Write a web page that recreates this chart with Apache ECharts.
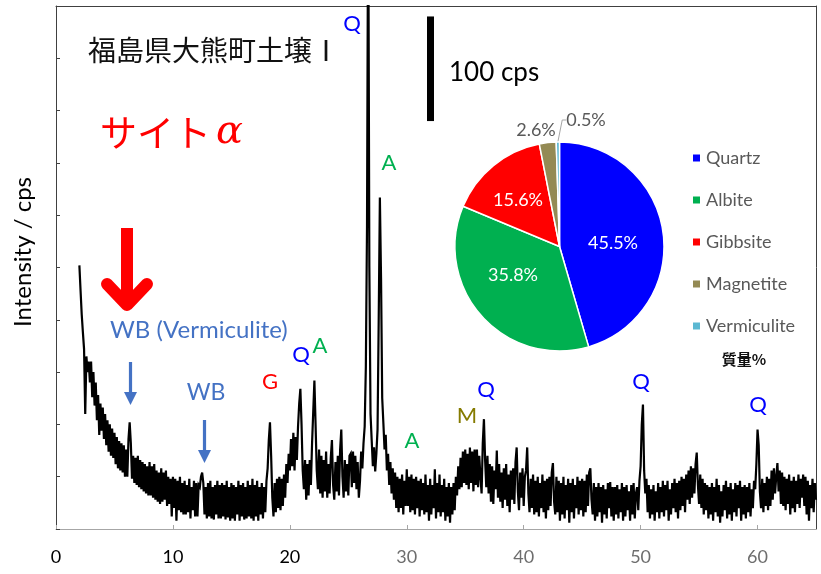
<!DOCTYPE html>
<html>
<head>
<meta charset="utf-8">
<script src="https://cdn.jsdelivr.net/npm/echarts@6/dist/echarts.min.js"></script>
<style>
  html, body { margin: 0; padding: 0; background: #fff; }
  #c { width: 821px; height: 574px; }
</style>
</head>
<body>
<div id="c"></div>
<script>
// XRD scan: 2θ from scanStart in steps of scanStep (degrees), intensity in cps
const scanStart = 2.0;
const scanStep = 0.1;
const intensity = [
  252,228,205,188,172,110,165,150,160,140,
  160,126,150,118,140,104,128,90,120,94,
  116,86,110,80,104,74,100,70,96,68,
  92,62,88,58,84,56,82,54,80,50,
  76,50,86,102,82,48,70,44,68,42,
  70,40,66,38,64,36,62,34,60,32,
  64,32,60,30,62,28,56,26,54,24,
  58,26,54,28,56,22,50,24,48,12,
  50,20,48,8,46,18,50,16,44,14,
  46,14,42,16,48,10,40,18,46,12,
  44,12,42,40,50,54,44,14,40,10,
  44,12,46,10,40,9,42,14,46,10,
  42,10,44,12,42,9,46,11,40,8,
  44,10,42,8,40,14,46,8,42,12,
  44,9,40,10,46,12,42,10,48,8,
  42,12,46,8,40,14,44,10,40,16,
  46,58,85,102,70,30,12,44,16,48,
  20,50,18,48,22,52,30,62,44,72,
  56,86,60,92,56,88,66,98,120,134,
  100,56,38,66,28,62,32,66,42,82,
  112,142,100,56,38,76,34,70,30,66,
  36,74,30,62,34,68,85,42,28,64,
  36,70,32,76,95,50,30,66,36,62,
  32,70,72,40,74,44,70,38,64,30,
  46,74,58,82,98,155,290,620,250,110,
  85,60,78,55,72,95,200,317,240,125,
  101,76,90,56,72,42,64,34,58,28,
  54,20,50,16,48,20,52,14,46,22,
  57,22,50,16,52,18,48,14,50,20,
  46,12,48,18,44,14,52,16,42,8,
  48,14,42,20,57,10,44,16,52,12,
  42,16,48,8,40,12,44,6,40,14,
  44,18,50,32,60,38,68,40,74,44,
  76,42,72,38,78,44,74,36,76,42,
  76,40,70,50,34,82,105,66,40,70,
  34,62,26,60,24,56,38,75,30,62,
  26,54,20,58,28,62,22,52,16,56,
  28,58,24,64,78,36,18,54,30,58,
  22,50,56,78,34,16,48,20,52,14,
  46,16,50,12,44,20,52,16,46,10,
  48,18,50,22,54,63,26,14,50,16,
  46,8,44,14,50,10,42,18,48,6,
  44,16,48,10,42,20,50,14,46,18,
  48,12,46,16,52,22,54,58,28,14,
  44,8,40,12,44,16,40,6,42,14,
  38,10,44,20,45,12,40,8,40,14,
  42,10,38,16,44,8,40,12,42,18,
  36,8,42,14,44,10,34,40,18,46,
  60,100,119,56,34,48,16,42,10,38,
  14,42,8,36,16,44,10,40,16,46,
  12,42,18,46,8,38,14,44,20,48,
  16,44,10,46,18,50,22,48,16,52,
  28,56,24,60,30,58,34,62,73,42,
  24,52,20,48,14,44,18,42,10,40,
  14,44,8,40,16,48,12,42,6,36,
  12,42,18,46,10,40,14,44,8,38,
  16,44,12,42,20,46,8,40,14,42,
  10,40,16,44,12,38,20,46,38,62,
  95,80,36,20,48,16,44,22,50,18,
  48,22,56,28,58,34,50,63,36,56,
  24,54,22,50,18,48,24,52,14,46,
  20,50,16,46,24,52,20,48,30,52,
  22,50,14,46,8,42,20,48,16,44,
  28
];

// Axis ranges
const xMin = 0, xMax = 65, xStep = 10;
const yMin = 0, yMax = 500, yStep = 50;

// Scale bar: 100 cps
const scaleBarCps = 100;
const scaleBarTopCps = 490;

// Mineral composition (mass %)
const phaseNames = ['Quartz', 'Albite', 'Gibbsite', 'Magnetite', 'Vermiculite'];
const phaseMass = [45.5, 35.8, 15.6, 2.6, 0.5];
const phaseColors = ['#0000ff', '#00b050', '#ff0000', '#948a54', '#5bb8d2'];

const scan = intensity.map((v, i) => [+(scanStart + i * scanStep).toFixed(2), v]);

const chart = echarts.init(document.getElementById('c'), null, { renderer: 'canvas' });

const labelFont = 'Lato, "Open Sans", sans-serif';
const frameColor = '#404040';

// Inner/outer pie label anchor points
const pieLabelPos = [
  { x: 613, y: 243 },
  { x: 513, y: 275 },
  { x: 518, y: 200 },
  { x: 536, y: 130 },
  { x: 586, y: 120 }
];

const option = {
  animation: false,
  backgroundColor: '#ffffff',
  grid: { left: 56, right: 5, top: 6, bottom: 45, containLabel: false },
  xAxis: [
    {
      type: 'value', min: xMin, max: xMax, interval: xStep,
      axisLine: { show: true, lineStyle: { color: '#a6a6a6', width: 1 } },
      axisTick: { show: true, inside: true, length: 4, lineStyle: { color: '#a6a6a6' } },
      splitLine: { show: false },
      axisLabel: {
        margin: 19, showMaxLabel: false,
        formatter: v => (v > 60 ? '' : (v >= 30 ? '{g|' + v + '}' : '{k|' + v + '}')),
        rich: {
          k: { fontFamily: labelFont, fontSize: 18, color: '#000000' },
          g: { fontFamily: labelFont, fontSize: 18, color: '#6e6e6e' }
        }
      }
    },
    {
      type: 'value', position: 'top', min: xMin, max: xMax,
      axisLine: { show: true, onZero: false, lineStyle: { color: frameColor, width: 1 } },
      axisTick: { show: false }, axisLabel: { show: false }, splitLine: { show: false }
    }
  ],
  yAxis: [
    {
      type: 'value', min: yMin, max: yMax, interval: yStep,
      axisLine: { show: true, onZero: false, lineStyle: { color: frameColor, width: 1 } },
      axisTick: { show: true, inside: true, length: 4, lineStyle: { color: frameColor } },
      axisLabel: { show: false },
      splitLine: { show: false }
    },
    {
      type: 'value', position: 'right', min: yMin, max: yMax,
      axisLine: { show: true, onZero: false, lineStyle: { color: frameColor, width: 1 } },
      axisTick: { show: false }, axisLabel: { show: false }, splitLine: { show: false }
    }
  ],
  legend: {
    orient: 'vertical', left: 686, top: 144,
    itemWidth: 9, itemHeight: 9, itemGap: 24, icon: 'rect',
    data: phaseNames,
    textStyle: { fontFamily: labelFont, fontSize: 18, color: '#595959', lineHeight: 18 }
  },
  series: [
    {
      type: 'line', name: 'XRD', data: scan, xAxisIndex: 0, yAxisIndex: 0,
      showSymbol: false, symbol: 'none', clip: true,
      lineStyle: { color: '#000000', width: 2.2, join: 'miter', miterLimit: 4 }, z: 2
    },
    {
      type: 'pie', name: '質量%', center: [559.5, 246.5], radius: [0, 104.5],
      startAngle: 90, clockwise: true, z: 5,
      itemStyle: { borderColor: '#ffffff', borderWidth: 1.5 },
      data: phaseNames.map((n, i) => ({
        name: n, value: phaseMass[i], itemStyle: { color: phaseColors[i] },
        label: i < 3
          ? { show: true, position: 'inside', color: '#ffffff' }
          : { show: true, position: 'outside', color: '#595959' },
        labelLine: { show: i === 4, length: 6, length2: 4, lineStyle: { color: '#a6a6a6', width: 1 } }
      })),
      label: {
        fontFamily: labelFont, fontSize: 18,
        formatter: p => p.value.toFixed(1) + '%'
      },
      labelLayout: p => {
        const pos = pieLabelPos[p.dataIndex];
        return { x: pos.x, y: pos.y, align: 'center', verticalAlign: 'middle' };
      },
      emphasis: { disabled: true }
    }
  ]
};

chart.setOption(option);

// Overlay annotations
const pyTop = chart.convertToPixel({ yAxisIndex: 0 }, scaleBarTopCps);
const pyBot = chart.convertToPixel({ yAxisIndex: 0 }, scaleBarTopCps - scaleBarCps);

function txt(text, x, y, size, color) {
  return {
    type: 'text', x: x, y: y, z: 20,
    style: { text: text, fill: color, font: size + 'px ' + labelFont, align: 'center', verticalAlign: 'middle' }
  };
}

const blue = '#0000ff', green = '#00b050', red = '#ff0000', wb = '#4472c4', olive = '#857b00';

const graphic = [
  // axis title
  { type: 'text', x: 23, y: 252, rotation: Math.PI / 2, z: 20,
    style: { text: 'Intensity / cps', fill: '#000', font: '24px ' + labelFont, align: 'center', verticalAlign: 'middle' } },
  // sample title
  { type: 'text', x: 88, y: 50, z: 20,
    style: { text: '福島県大熊町土壌Ⅰ', fill: '#111', font: '28px "Noto Sans CJK JP", sans-serif', align: 'left', verticalAlign: 'middle' } },
  { type: 'text', x: 100, y: 133, z: 20,
    style: {
      text: '{a|サイト}{b|α}', align: 'left', verticalAlign: 'middle',
      rich: {
        a: { fill: red, font: '37px "Noto Sans CJK JP", sans-serif' },
        b: { fill: red, font: 'italic 40px "DejaVu Serif", serif', padding: [0, 0, 0, 5] }
      }
    } },
  // scale bar
  { type: 'line', z: 20, shape: { x1: 430.5, y1: pyTop, x2: 430.5, y2: pyBot }, style: { stroke: '#000', lineWidth: 7 } },
  { type: 'text', x: 449, y: 73, z: 20,
    style: { text: '100 cps', fill: '#000', font: '26px ' + labelFont, align: 'left', verticalAlign: 'middle' } },
  // red arrow
  { type: 'line', z: 20, shape: { x1: 127, y1: 228, x2: 127, y2: 300 }, style: { stroke: red, lineWidth: 12, lineCap: 'butt' } },
  { type: 'polyline', z: 20, shape: { points: [[107, 284], [127, 305], [147, 284]] },
    style: { stroke: red, lineWidth: 12, lineCap: 'round', lineJoin: 'round', fill: null } },
  // WB labels and arrows
  { type: 'text', x: 110, y: 330, z: 20,
    style: { text: 'WB (Vermiculite)', fill: wb, font: '24px ' + labelFont, align: 'left', verticalAlign: 'middle' } },
  { type: 'line', z: 20, shape: { x1: 130.5, y1: 362, x2: 130.5, y2: 394 }, style: { stroke: wb, lineWidth: 3.2 } },
  { type: 'polygon', z: 20, shape: { points: [[124, 392], [137, 392], [130.5, 405]] }, style: { fill: wb } },
  { type: 'text', x: 206, y: 393, z: 20,
    style: { text: 'WB', fill: wb, font: '23px ' + labelFont, align: 'center', verticalAlign: 'middle' } },
  { type: 'line', z: 20, shape: { x1: 204.5, y1: 420, x2: 204.5, y2: 452 }, style: { stroke: wb, lineWidth: 3.2 } },
  { type: 'polygon', z: 20, shape: { points: [[198, 450], [211, 450], [204.5, 463]] }, style: { fill: wb } },
  // phase markers
  txt('Q', 352, 24, 22, blue),
  txt('A', 389, 163, 22, green),
  txt('G', 270, 382, 22, red),
  txt('Q', 301, 355, 22, blue),
  txt('A', 320, 346, 22, green),
  txt('A', 412, 441, 22, green),
  txt('M', 467, 416, 22, olive),
  txt('Q', 486, 390, 22, blue),
  txt('Q', 641, 382, 22, blue),
  txt('Q', 758, 405, 22, blue),
  // unit note under legend
  { type: 'text', x: 744, y: 359, z: 20,
    style: { text: '質量%', fill: '#111', font: 'bold 15px "Noto Sans CJK JP", sans-serif', align: 'center', verticalAlign: 'middle' } }
];

chart.setOption({ graphic: graphic });
</script>
</body>
</html>
